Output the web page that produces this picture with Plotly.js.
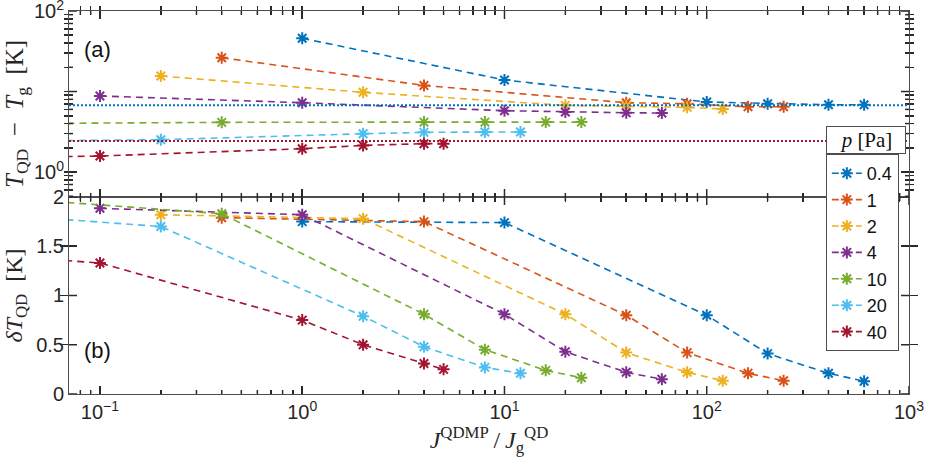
<!DOCTYPE html>
<html>
<head>
<meta charset="utf-8">
<script src="https://cdn.plot.ly/plotly-3.0.1.min.js"></script>
<style>html,body{margin:0;padding:0;background:#fff;}#chart{width:926px;height:465px;}</style>
</head>
<body>
<div id="chart"></div>
<script>
// ---- data ----
const pressures = ['0.4', '1', '2', '4', '10', '20', '40'];
const colors = ['#0072BD', '#D95319', '#EDB120', '#7E2F8E', '#77AC30', '#4DBEEE', '#A2142F'];

const x04 = [1, 10, 100, 200, 400, 600];
const x1  = [0.4, 4, 40, 80, 160, 240];
const x2  = [0.2, 2, 20, 40, 80, 120];
const x4  = [0.1, 1, 10, 20, 40, 60];
const x10 = [0.04, 0.4, 4, 8, 16, 24];
const x20 = [0.02, 0.2, 2, 4, 8, 12];
const x40 = [0.01, 0.1, 1, 2, 4, 5];

// (a) T_QD - T_g [K]
const dT04 = [45.8, 13.9, 7.4, 7.05, 6.86, 6.86];
const dT1  = [26.3, 11.9, 7.26, 7.05, 6.46, 6.46];
const dT2  = [15.6, 9.77, 6.73, 6.6, 6.36, 6.06];
const dT4  = [8.8, 7.26, 5.78, 5.56, 5.45, 5.41];
const dT10 = [4.0, 4.14, 4.17, 4.17, 4.17, 4.17];
const dT20 = [2.39, 2.52, 2.99, 3.11, 3.14, 3.14];
const dT40 = [1.45, 1.58, 1.95, 2.14, 2.25, 2.25];

// (b) delta T_QD [K]
const d04 = [1.75, 1.74, 0.80, 0.41, 0.21, 0.13];
const d1  = [1.79, 1.75, 0.80, 0.42, 0.21, 0.135];
const d2  = [1.82, 1.78, 0.81, 0.42, 0.22, 0.135];
const d4  = [1.885, 1.82, 0.81, 0.43, 0.22, 0.15];
const d10 = [1.98, 1.83, 0.81, 0.45, 0.24, 0.165];
const d20 = [1.85, 1.70, 0.79, 0.48, 0.27, 0.21];
const d40 = [1.48, 1.33, 0.75, 0.50, 0.31, 0.25];

// dotted reference levels in (a): [level for p=0.4, level for p=40]
const refLevels = [6.73, 2.43];
const refColors = ['#0072BD', '#A2142F'];

const xDecades = [0.1, 1, 10, 100, 1000];
const xDecadeText = ['10<sup>\u22121</sup>', '10<sup>0</sup>', '10<sup>1</sup>', '10<sup>2</sup>', '10<sup>3</sup>'];
const yTopDecades = [1, 10, 100];
const yTopDecadeText = ['10<sup>0</sup>', '', '10<sup>2</sup>'];
const yBotTickVals = [0, 0.5, 1, 1.5, 2];
const yBotTickText = ['0', '0.5', '1', '1.5', '2'];

// axis ranges (log axes in decades)
const xRange = [Math.log10(0.0703), 3.0001];
const yTopRange = [-0.31, 2.0001];
const yBotRange = [0, 2.0001];

// minor log tick values 2..9 per decade, kept within a log range
function minorLog(range) {
  const v = [];
  for (let d = Math.floor(range[0]); d <= Math.ceil(range[1]); d++)
    for (let k = 2; k <= 9; k++) {
      const t = k * Math.pow(10, d), l = Math.log10(t);
      if (l >= range[0] && l <= range[1]) v.push(t);
    }
  return v;
}
function withMinor(decVals, decText, range) {
  const m = minorLog(range);
  return {vals: decVals.concat(m), text: decText.concat(m.map(() => ''))};
}
const xT = withMinor(xDecades, xDecadeText, xRange);
const yT = withMinor(yTopDecades, yTopDecadeText, yTopRange);

// ---- build traces ----
const xs = [x04, x1, x2, x4, x10, x20, x40];
const tops = [dT04, dT1, dT2, dT4, dT10, dT20, dT40];
const bots = [d04, d1, d2, d4, d10, d20, d40];

const traces = [];
pressures.forEach((p, i) => {
  const common = {
    mode: 'lines+markers',
    line: {color: colors[i], width: 1.6, dash: '7px,5px'},
    marker: {symbol: 'asterisk-open', size: 10, color: colors[i], line: {color: colors[i], width: 2}},
    name: p,
    legendgroup: p
  };
  traces.push(Object.assign({}, common, {x: xs[i], y: tops[i], xaxis: 'x2', yaxis: 'y2', showlegend: false}));
  traces.push(Object.assign({}, common, {x: xs[i], y: bots[i], xaxis: 'x', yaxis: 'y', showlegend: true}));
});
traces.push({x: [], y: [], xaxis: 'x3', yaxis: 'y', showlegend: false, hoverinfo: 'skip'});
traces.push({x: [], y: [], xaxis: 'x4', yaxis: 'y2', showlegend: false, hoverinfo: 'skip'});
traces.push({x: [], y: [], xaxis: 'x2', yaxis: 'y3', showlegend: false, hoverinfo: 'skip'});

// ---- inward tick marks drawn as lines on every side (axis decoration) ----
const tickCol = '#2a2a2a';
const plotW = 840, topH = 186, botH = 197, majLen = 8, minLen = 4;
const tickShapes = [];
function xTickMarks(vals, len, xref, yref, panelH) {
  vals.forEach(v => {
    [[0, len / panelH], [1, 1 - len / panelH]].forEach(([a, b]) => tickShapes.push({
      type: 'line', xref: xref, yref: yref + ' domain', x0: v, x1: v, y0: a, y1: b,
      line: {color: tickCol, width: 1.5}, layer: 'above'}));
  });
}
function yTickMarks(vals, len, xref, yref) {
  vals.forEach(v => {
    [[0, len / plotW], [1, 1 - len / plotW]].forEach(([a, b]) => tickShapes.push({
      type: 'line', xref: xref + ' domain', yref: yref, x0: a, x1: b, y0: v, y1: v,
      line: {color: tickCol, width: 1.5}, layer: 'above'}));
  });
}
xTickMarks(xDecades, majLen, 'x', 'y', botH);
xTickMarks(minorLog(xRange), minLen, 'x', 'y', botH);
xTickMarks(xDecades, majLen, 'x2', 'y2', topH);
xTickMarks(minorLog(xRange), minLen, 'x2', 'y2', topH);
yTickMarks(yBotTickVals, majLen, 'x', 'y');
yTickMarks(yTopDecades, majLen, 'x2', 'y2');
yTickMarks(minorLog(yTopRange), minLen, 'x2', 'y2');

const refShapes = refLevels.map((lv, i) => ({
  type: 'line', xref: 'x2 domain', yref: 'y2', x0: 0, x1: 1, y0: lv, y1: lv,
  line: {color: refColors[i], width: 2, dash: '2px,2px'}, layer: 'above'
}));

const axisLine = '#4d4d4d';
const tickFont = {family: 'Liberation Sans, Arial, sans-serif', size: 20, color: '#262626'};
const mathFont = {family: 'Liberation Serif, Times New Roman, serif', size: 24, color: '#262626'};

const xCommon = {
  type: 'log', range: xRange,
  showline: true, linecolor: axisLine, linewidth: 1, mirror: 'allticks',
  ticks: 'inside', ticklen: 4, tickcolor: tickCol, tickwidth: 1.5,
  showgrid: false, zeroline: false,
  tickmode: 'array', tickvals: xT.vals, ticktext: xT.text,
  tickfont: tickFont, ticklabeloverflow: 'allow'
};
const decadeX = {
  type: 'log', range: xRange, showline: false, mirror: 'ticks',
  ticks: 'inside', ticklen: 8, tickcolor: tickCol, tickwidth: 1.5,
  showgrid: false, zeroline: false, showticklabels: false,
  tickmode: 'array', tickvals: xDecades
};

const layout = {
  width: 926, height: 465,
  margin: {l: 69, r: 17, t: 11, b: 71},
  paper_bgcolor: '#fff', plot_bgcolor: '#fff',
  showlegend: true,
  xaxis: Object.assign({}, xCommon, {anchor: 'y', domain: [0, 1],
    title: {text: '<i>J</i><sup>QDMP</sup>\u2009/\u2009<i>J</i><sub>g</sub><sup>QD</sup>', font: mathFont, standoff: 9}}),
  xaxis2: Object.assign({}, xCommon, {anchor: 'y2', domain: [0, 1], showticklabels: false}),
  xaxis3: Object.assign({}, decadeX, {overlaying: 'x', anchor: 'y'}),
  xaxis4: Object.assign({}, decadeX, {overlaying: 'x2', anchor: 'y2'}),
  yaxis: {
    domain: [0, 0.5144], anchor: 'x', range: yBotRange,
    showline: true, linecolor: axisLine, linewidth: 1, mirror: 'allticks',
    ticks: 'inside', ticklen: 8, tickcolor: tickCol, tickwidth: 1.5,
    showgrid: false, zeroline: false,
    tickmode: 'array', tickvals: yBotTickVals, ticktext: yBotTickText, tickfont: tickFont,
    ticklabeloverflow: 'allow',
    title: {text: '<i>\u03b4T</i><sub>QD</sub>\u2002[K]', font: mathFont, standoff: 6}
  },
  yaxis2: {
    domain: [0.5144, 1], anchor: 'x2', type: 'log', range: yTopRange,
    showline: true, linecolor: axisLine, linewidth: 1, mirror: 'allticks',
    ticks: 'inside', ticklen: 4, tickcolor: tickCol, tickwidth: 1.5,
    showgrid: false, zeroline: false,
    tickmode: 'array', tickvals: yT.vals, ticktext: yT.text, tickfont: tickFont,
    ticklabeloverflow: 'allow'
  },
  yaxis3: {
    overlaying: 'y2', anchor: 'x2', type: 'log', range: yTopRange,
    showline: false, mirror: 'ticks', ticks: 'inside', ticklen: 8, tickcolor: tickCol, tickwidth: 1.5,
    showgrid: false, zeroline: false, showticklabels: false,
    tickmode: 'array', tickvals: yTopDecades
  },
  shapes: tickShapes.concat(refShapes),
  legend: {
    x: 0.901, y: 0.6266, xanchor: 'left', yanchor: 'top',
    bgcolor: '#fff', bordercolor: axisLine, borderwidth: 1,
    font: {family: 'Liberation Sans, Arial, sans-serif', size: 18, color: '#111'},
    traceorder: 'normal', tracegroupgap: 0, itemwidth: 30
  },
  annotations: [
    {text: '<i>T</i><sub>QD</sub>\u2002\u2212\u2002<i>T</i><sub>g</sub>\u2002[K]', textangle: -90,
     xref: 'paper', yref: 'paper', x: (16 - 69) / 840, y: (394 - 114) / 383,
     xanchor: 'center', yanchor: 'middle', showarrow: false,
     font: {family: 'Liberation Serif, Times New Roman, serif', size: 25, color: '#262626'}},
    {text: '<i>p</i> [Pa]', xref: 'paper', yref: 'paper', x: 0.901, y: 0.6266,
     xanchor: 'left', yanchor: 'bottom', showarrow: false,
     font: {family: 'Liberation Serif, Times New Roman, serif', size: 21, color: '#111'},
     bgcolor: '#fff', bordercolor: axisLine, borderwidth: 1, borderpad: 1, width: 76, height: 24},
    {text: '(a)', xref: 'paper', yref: 'paper', x: (97 - 69) / 840, y: (394 - 50) / 383,
     xanchor: 'center', yanchor: 'middle', showarrow: false,
     font: {family: 'Liberation Sans, Arial, sans-serif', size: 22, color: '#111'}},
    {text: '(b)', xref: 'paper', yref: 'paper', x: (97 - 69) / 840, y: (394 - 350) / 383,
     xanchor: 'center', yanchor: 'middle', showarrow: false,
     font: {family: 'Liberation Sans, Arial, sans-serif', size: 22, color: '#111'}}
  ]
};

Plotly.newPlot('chart', traces, layout, {displayModeBar: false, staticPlot: true});
</script>
</body>
</html>
